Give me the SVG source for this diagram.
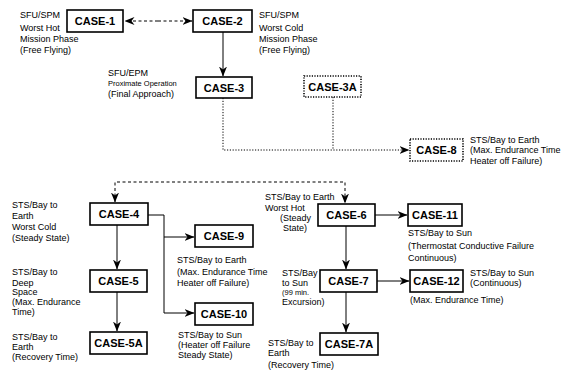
<svg xmlns="http://www.w3.org/2000/svg" width="563" height="372" viewBox="0 0 563 372">
<style>
.bg{fill:#fff}
.box{fill:#fff;stroke:#000;stroke-width:1.6}
.dbox{fill:#fff;stroke:#000;stroke-width:1.6;stroke-dasharray:1.2 1.4}
.lbl{font-family:"Liberation Sans",Arial,sans-serif;font-size:11px;font-weight:bold;text-anchor:middle;fill:#000}
.t{font-family:"Liberation Sans",Arial,sans-serif;font-size:9px;fill:#000}
.ts{font-family:"Liberation Sans",Arial,sans-serif;font-size:7.5px;fill:#000}
.ln{fill:none;stroke:#000;stroke-width:1}
.dot{fill:none;stroke:#000;stroke-width:1;stroke-dasharray:1.2 1.6}
.dash{fill:none;stroke:#000;stroke-width:1;stroke-dasharray:3 2.5}
</style>
<defs>
<marker id="ah" viewBox="0 0 10 8" refX="9.5" refY="4" markerWidth="10" markerHeight="8" markerUnits="userSpaceOnUse" orient="auto">
<path d="M0,0 L10,4 L0,8 L3,4 z" fill="#000"/>
</marker>
</defs>
<rect class="bg" x="0" y="0" width="563" height="372"/>
<g id="connectors">
<path class="dash" d="M158,21 H125" marker-end="url(#ah)"/>
<path class="dash" d="M158,21 H192" marker-end="url(#ah)"/>
<path class="ln" d="M223,32 V76" marker-end="url(#ah)"/>
<path class="dot" d="M223,98 V150 H409" marker-end="url(#ah)"/>
<path class="dot" d="M333,97 V150"/>
<path class="dash" d="M230,182 H115 V202" marker-end="url(#ah)"/>
<path class="dash" d="M230,182 H345 V203" marker-end="url(#ah)"/>
<path class="ln" d="M117,225 V269" marker-end="url(#ah)"/>
<path class="ln" d="M117,292 V331" marker-end="url(#ah)"/>
<path class="ln" d="M148,215 H164 V313 H194" marker-end="url(#ah)"/>
<path class="ln" d="M164,237 H194" marker-end="url(#ah)"/>
<path class="ln" d="M375,215 H407" marker-end="url(#ah)"/>
<path class="ln" d="M346,226 V269" marker-end="url(#ah)"/>
<path class="ln" d="M377,281 H409" marker-end="url(#ah)"/>
<path class="ln" d="M346,292 V332" marker-end="url(#ah)"/>
</g>
<g id="case1"><rect class="box" x="67" y="10" width="56" height="22"/><text class="lbl" x="95" y="25">CASE-1</text>
<text class="t" x="20" y="18">SFU/SPM</text><text class="t" x="20" y="31">Worst Hot</text><text class="t" x="20" y="42">Mission Phase</text><text class="t" x="20" y="53">(Free Flying)</text></g>
<g id="case2"><rect class="box" x="193" y="10" width="59" height="22"/><text class="lbl" x="222.5" y="25">CASE-2</text>
<text class="t" x="259" y="18">SFU/SPM</text><text class="t" x="259" y="31">Worst Cold</text><text class="t" x="259" y="42">Mission Phase</text><text class="t" x="259" y="53">(Free Flying)</text></g>
<g id="case3"><rect class="box" x="196" y="77" width="56" height="21"/><text class="lbl" x="224" y="91.5">CASE-3</text>
<text class="t" x="108" y="76">SFU/EPM</text><text class="ts" x="108" y="86">Proximate Operation</text><text class="t" x="108" y="97">(Final Approach)</text></g>
<g id="case3a"><rect class="dbox" x="304" y="76" width="57" height="21"/><text class="lbl" x="332.5" y="90.5">CASE-3A</text></g>
<g id="case8"><rect class="dbox" x="410" y="139" width="53" height="22"/><text class="lbl" x="436.5" y="154">CASE-8</text>
<text class="t" x="470" y="143">STS/Bay to Earth</text><text class="t" x="470" y="153">(Max. Endurance Time</text><text class="t" x="470" y="164">Heater off Failure)</text></g>
<g id="case4"><rect class="box" x="90" y="203" width="58" height="22"/><text class="lbl" x="119" y="218">CASE-4</text>
<text class="t" x="12" y="208">STS/Bay to</text><text class="t" x="12" y="219">Earth</text><text class="t" x="12" y="230">Worst Cold</text><text class="t" x="12" y="241">(Steady State)</text></g>
<g id="case9"><rect class="box" x="195" y="225" width="58" height="22"/><text class="lbl" x="224" y="240">CASE-9</text>
<text class="t" x="177" y="263">STS/Bay to Earth</text><text class="t" x="177" y="275">(Max. Endurance Time</text><text class="t" x="177" y="286">Heater off Failure)</text></g>
<g id="case6"><rect class="box" x="318" y="204" width="57" height="22"/><text class="lbl" x="346.5" y="219">CASE-6</text>
<text class="t" x="265" y="200">STS/Bay to Earth</text><text class="t" x="265" y="211">Worst Hot</text><text class="t" x="280" y="221">(Steady</text><text class="t" x="283" y="231">State)</text></g>
<g id="case11"><rect class="box" x="408" y="204" width="54" height="22"/><text class="lbl" x="435" y="219">CASE-11</text>
<text class="t" x="408" y="236">STS/Bay to Sun</text><text class="t" x="408" y="249">(Thermostat Conductive Failure</text><text class="t" x="408" y="261">Continuous)</text></g>
<g id="case5"><rect class="box" x="90" y="270" width="57" height="22"/><text class="lbl" x="118.5" y="285">CASE-5</text>
<text class="t" x="12" y="275">STS/Bay to</text><text class="t" x="12" y="286">Deep</text><text class="t" x="12" y="295">Space</text><text class="t" x="12" y="305">(Max. Endurance</text><text class="t" x="12" y="315">Time)</text></g>
<g id="case10"><rect class="box" x="195" y="303" width="58" height="22"/><text class="lbl" x="224" y="318">CASE-10</text>
<text class="t" x="178" y="338">STS/Bay to Sun</text><text class="t" x="178" y="348">(Heater off Failure</text><text class="t" x="178" y="358">Steady State)</text></g>
<g id="case7"><rect class="box" x="320" y="270" width="57" height="22"/><text class="lbl" x="348.5" y="285">CASE-7</text>
<text class="t" x="282" y="276">STS/Bay</text><text class="t" x="282" y="286">to Sun</text><text class="ts" x="282" y="295">(99 min.</text><text class="t" x="282" y="305">Excursion)</text></g>
<g id="case12"><rect class="box" x="410" y="270" width="53" height="22"/><text class="lbl" x="436.5" y="285">CASE-12</text>
<text class="t" x="470" y="276">STS/Bay to Sun</text><text class="t" x="470" y="286">(Continuous)</text><text class="t" x="410" y="303">(Max. Endurance Time)</text></g>
<g id="case5a"><rect class="box" x="90" y="332" width="57" height="22"/><text class="lbl" x="118.5" y="347">CASE-5A</text>
<text class="t" x="12" y="340">STS/Bay to</text><text class="t" x="12" y="350">Earth</text><text class="t" x="12" y="360">(Recovery Time)</text></g>
<g id="case7a"><rect class="box" x="320" y="333" width="58" height="22"/><text class="lbl" x="349" y="348">CASE-7A</text>
<text class="t" x="268" y="346">STS/Bay to</text><text class="t" x="268" y="356">Earth</text><text class="t" x="268" y="368">(Recovery Time)</text></g>
</svg>
